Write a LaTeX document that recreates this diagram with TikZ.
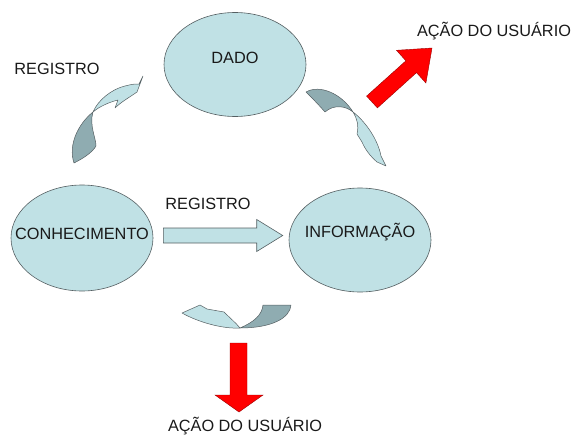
\documentclass[tikz,border=0pt]{standalone}
\usepackage{fontspec}
\setmainfont{Liberation Sans}
\usetikzlibrary{shapes.geometric,calc,positioning}
\definecolor{ellfill}{RGB}{192,225,229}
\definecolor{darkteal}{RGB}{143,172,177}
\definecolor{edgegray}{RGB}{85,95,98}
\definecolor{txtgray}{RGB}{25,25,25}
\newcommand{\bigfont}{\fontsize{16.3}{19}\selectfont}
% zero sized text, so the ellipse keeps its own size
\newcommand{\intext}[2]{\makebox[0pt]{\raisebox{#1}[0pt][0pt]{#2}}}
\tikzset{
    blob/.style={
           ellipse,
           draw=edgegray, line width=0.6pt,
           fill=ellfill,
           inner sep=0pt,
           minimum width=142pt,
           minimum height=104pt,
           font=\bigfont, text=txtgray,
           },
    tag/.style={
           font=\bigfont, text=txtgray,
           inner sep=0pt, text height=11.7pt, text depth=0pt,
           },
    lightpart/.style={fill=ellfill, draw=edgegray, line width=0.5pt, line join=round},
    darkpart/.style={fill=darkteal, draw=edgegray, line width=0.5pt, line join=round},
    redarrow/.style={fill=red, draw=red!60!black, line width=0.4pt},
    bluearrow/.style={fill=ellfill, draw=edgegray, line width=0.6pt},
}
\begin{document}
\begin{tikzpicture}[x=1pt,y=-1pt]
  \useasboundingbox (0,0) rectangle (575,436);

  % the three ellipses
  \node[blob] (DADO) at (235,64.5) {\intext{1.2pt}{DADO}};
  \node[blob,minimum height=106pt] (CONHECIMENTO) at (82,238) {\intext{-1.9pt}{CONHECIMENTO}};
  \node[blob] (INFORMACAO) at (360,240) {\intext{2.2pt}{INFORMAÇÃO}};

  % texts
  \node[tag] (REGTOP) at (57,69) {REGISTRO};
  \node[tag] (REGMID) at (208,204) {REGISTRO};
  \node[tag] (ACAOTOP) at (494,31) {AÇÃO DO USUÁRIO};
  \node[tag] (ACAOBOT) at (245,426) {AÇÃO DO USUÁRIO};

  % block arrow conhecimento -> informacao
  \coordinate (REGSTART) at ($(CONHECIMENTO.east)+(10,-2.5)$);
  \coordinate (REGEND) at ($(INFORMACAO.west)+(-6,-4.5)$);
  \draw[bluearrow] ($(REGSTART)+(0,-7.5)$) -- ($(REGEND)+(-26,-7.5)$)
    -- ($(REGEND)+(-26,-16)$) -- (REGEND) -- ($(REGEND)+(-26,16)$)
    -- ($(REGEND)+(-26,7.5)$) -- ($(REGSTART)+(0,7.5)$) -- cycle;

  % curved arrow conhecimento -> dado
  \draw[darkpart] (74,163) .. controls (68,145) and (78,124) .. (93,112)
    .. controls (89,125) and (96,138) .. (96,146)
    .. controls (92,153) and (82,159) .. (74,163) -- cycle;
  \draw[lightpart] (93,112) .. controls (98,100) and (112,89) .. (125,86)
    .. controls (132,84) and (136,84) .. (139,84) -- (143,76) -- (137,92)
    .. controls (130,97) and (121,102) .. (115,108) -- (118,100)
    .. controls (110,102) and (100,106) .. (93,112) -- cycle;

  % curved arrow dado -> informacao
  \draw[darkpart] (306,92) .. controls (320,84) and (342,94) .. (353,112)
    .. controls (346,106) and (334,104) .. (325,112)
    .. controls (318,104) and (312,98) .. (306,92) -- cycle;
  \draw[lightpart] (353,112) .. controls (366,122) and (378,140) .. (381,156)
    -- (386,166) -- (377,162) .. controls (370,156) and (365,149) .. (362,142)
    -- (357,134) .. controls (359,126) and (357,118) .. (353,112) -- cycle;

  % curved arrow below informacao
  \draw[darkpart] (263,305) -- (291,305) .. controls (290,318) and (272,328) .. (240,328)
    .. controls (254,322) and (262,315) .. (263,305) -- cycle;
  \draw[lightpart] (240,328) .. controls (222,329) and (198,322) .. (182,313)
    -- (200,305) -- (207,309) -- (224,312)
    .. controls (230,318) and (236,323) .. (240,328) -- cycle;

  % red arrows, user action
  \draw[redarrow] (377.4,107.9) -- (416.5,72.6) -- (425.9,83.0) -- (432,48)
    -- (396.5,50.3) -- (405.9,60.8) -- (366.6,96.1) -- cycle;
  \draw[redarrow] (230,343) -- (247,343) -- (247,395) -- (263,395) -- (239,412)
    -- (215,395) -- (230,395) -- cycle;
\end{tikzpicture}
\end{document}
